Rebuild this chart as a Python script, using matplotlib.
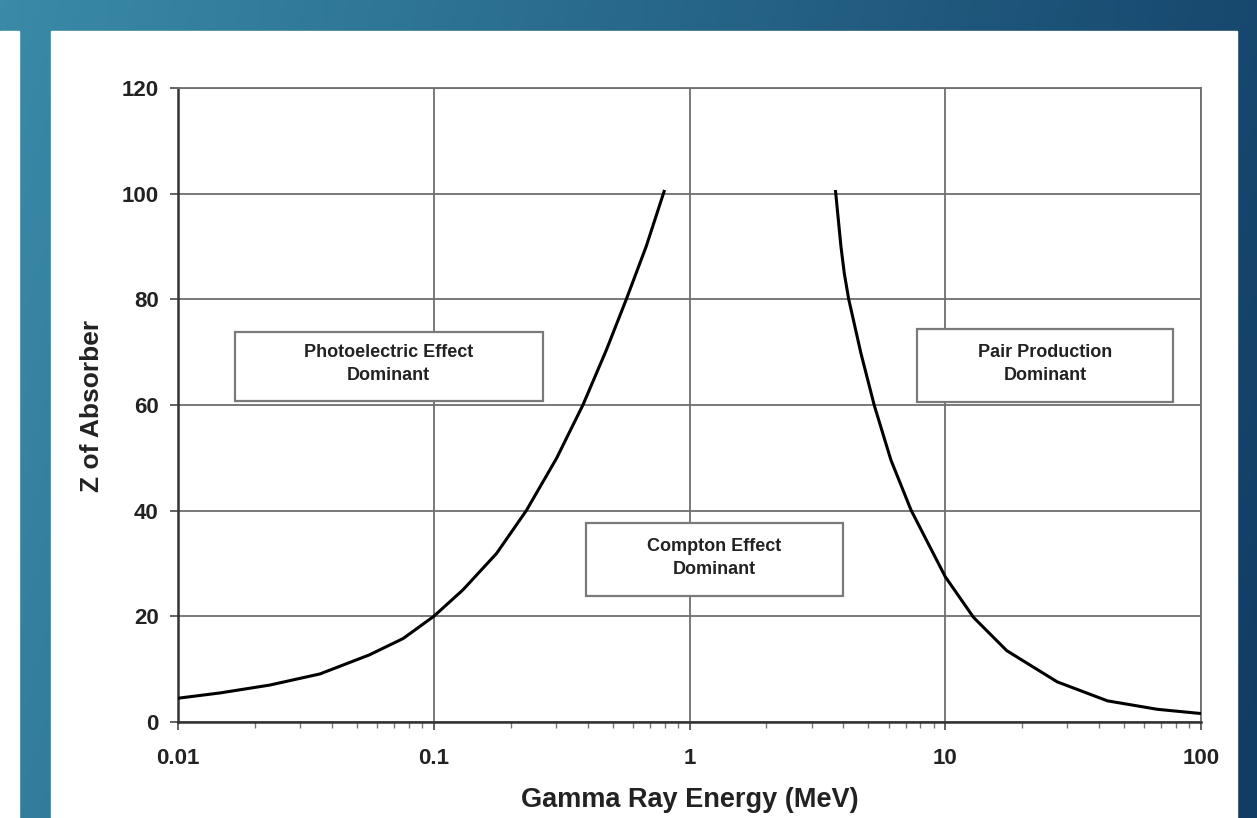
import numpy as np
import matplotlib
matplotlib.use("Agg")
import matplotlib.pyplot as plt
from matplotlib.patches import Rectangle
from matplotlib.ticker import FixedLocator, FixedFormatter, LogLocator, NullFormatter

plt.rcParams['font.family'] = ['Liberation Sans', 'DejaVu Sans']

# Data
left_energy = [0.01, 0.0146, 0.0229, 0.0359, 0.056, 0.0759, 0.1, 0.130,
               0.176, 0.230, 0.302, 0.383, 0.473, 0.566, 0.677, 0.799]
left_z = [4.5, 5.5, 7.0, 9.1, 12.7, 15.8, 20.0, 25.0,
          31.9, 40.0, 49.9, 60.0, 70.4, 80.0, 90.0, 100.7]
right_energy = [3.72, 3.91, 4.03, 4.19, 4.68, 5.28, 6.13, 7.35, 10.0,
                12.9, 17.4, 27.4, 43.1, 67.6, 100.0]
right_z = [100.7, 90.0, 84.9, 80.1, 69.8, 59.9, 49.6, 40.1, 27.5,
           19.8, 13.5, 7.6, 4.0, 2.4, 1.6]

x_ticks = [0.01, 0.1, 1, 10, 100]
x_tick_labels = ["0.01", "0.1", "1", "10", "100"]
y_ticks = [0, 20, 40, 60, 80, 100, 120]
region_labels = ["Photoelectric Effect\nDominant", "Compton Effect\nDominant", "Pair Production\nDominant"]

W, H = 1257, 818
fig = plt.figure(figsize=(W / 100, H / 100), dpi=100)

# Background gradient
bg = fig.add_axes([0, 0, 1, 1])
bg.set_axis_off()
xs = np.linspace(0, 1, 256)
ys = np.linspace(0, 1, 64)
c_left = np.array([58, 138, 168]) / 255
c_right = np.array([17, 60, 100]) / 255
grad = np.zeros((64, 256, 3))
for i, yv in enumerate(ys):
    for j, xv in enumerate(xs):
        t = min(1, xv * 0.85 + yv * 0.15)
        grad[i, j] = c_left * (1 - t) + c_right * t
bg.imshow(grad, extent=[0, 1, 0, 1], aspect='auto', origin='upper')
bg.set_xlim(0, 1)
bg.set_ylim(0, 1)
bg.add_patch(Rectangle((0, 0), 19 / W, 1 - 31 / H, color='white', zorder=2))
bg.add_patch(Rectangle((51 / W, 0), (1237 - 51) / W, 1 - 31 / H, color='white', zorder=2))

ax = fig.add_axes([178 / W, (H - 722) / H, (1201 - 178) / W, (722 - 88) / H])
ax.set_facecolor('white')
ax.set_xscale('log')
ax.set_xlim(0.01, 100)
ax.set_ylim(0, 120)

ax.plot(left_energy, left_z, color='black', lw=2.2, zorder=3, solid_capstyle='butt',
        solid_joinstyle='round')
ax.plot(right_energy, right_z, color='black', lw=2.2, zorder=3, solid_capstyle='butt',
        solid_joinstyle='round')

ax.xaxis.set_major_locator(FixedLocator(x_ticks))
ax.xaxis.set_major_formatter(FixedFormatter(x_tick_labels))
ax.xaxis.set_minor_locator(LogLocator(base=10, subs=np.arange(2, 10)))
ax.xaxis.set_minor_formatter(NullFormatter())
ax.set_yticks(y_ticks)

ax.grid(True, which='major', color='#6e6e6e', lw=1.3, zorder=0)
ax.set_axisbelow(True)
for s in ['left', 'bottom']:
    ax.spines[s].set_color('#333333')
    ax.spines[s].set_linewidth(1.8)
for s in ['top', 'right']:
    ax.spines[s].set_color('#6e6e6e')
    ax.spines[s].set_linewidth(1.3)

ax.tick_params(axis='both', which='major', direction='out', length=6, width=1.3,
               color='#555555', labelsize=16, pad=8)
ax.tick_params(axis='x', which='minor', direction='out', length=4, width=1.0, color='#777777')
ax.tick_params(axis='x', which='major', pad=13)
for lab in ax.get_xticklabels() + ax.get_yticklabels():
    lab.set_fontweight('bold')
    lab.set_color('#222222')

ax.set_xlabel("Gamma Ray Energy (MeV)", fontsize=19.5, fontweight='bold', color='#222222')
ax.set_ylabel("Z of Absorber", fontsize=19, fontweight='bold', color='#222222')
ax.xaxis.set_label_coords(0.5005, -0.123)
ax.xaxis.label.set_va('center')
ax.yaxis.set_label_coords(-0.0841, 0.499)
ax.yaxis.label.set_va('center')

boxes = [
    ((0.0557, 0.5063), 0.3011, 0.1093, (0.2058, 0.5647)),
    ((0.3988, 0.1987), 0.2512, 0.1152, (0.524, 0.259)),
    ((0.7224, 0.5052), 0.2502, 0.1147, (0.8475, 0.5647)),
]
for (xy, w, h, tpos), lbl in zip(boxes, region_labels):
    ax.add_patch(Rectangle(xy, w, h, transform=ax.transAxes, facecolor='white',
                           edgecolor='#7a7a7a', lw=1.6, zorder=2))
    ax.text(tpos[0], tpos[1], lbl, transform=ax.transAxes, ha='center', va='center',
            fontsize=13, fontweight='bold', color='#222222', linespacing=1.5, zorder=4)

fig.savefig("out.png", dpi=100)
